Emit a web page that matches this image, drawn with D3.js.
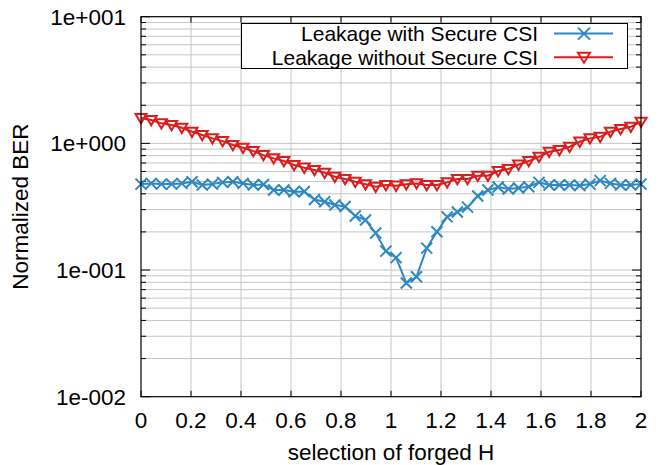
<!DOCTYPE html>
<html>
<head>
<meta charset="utf-8">
<script src="https://cdn.jsdelivr.net/npm/d3@7"></script>
<style>
  body { margin: 0; background: #fff; }
  svg { display: block; font-family: "Liberation Sans", Arial, sans-serif; }
</style>
</head>
<body>
<div id="chart"></div>
<script>
// Normalized BER vs forged-H selection, two series on a log y axis.

var xValues = d3.range(50).map(function(i) { return i * 2 / 49; });

var withSecure = [
  0.477, 0.483, 0.477, 0.477, 0.483, 0.497, 0.469, 0.477, 0.492, 0.497,
  0.483, 0.469, 0.473, 0.428, 0.428, 0.415, 0.417, 0.360, 0.346, 0.326,
  0.317, 0.267, 0.248, 0.196, 0.141, 0.1254, 0.0789, 0.0885, 0.149, 0.2005,
  0.263, 0.287, 0.314, 0.384, 0.428, 0.452, 0.436, 0.444, 0.454, 0.492,
  0.469, 0.469, 0.469, 0.465, 0.477, 0.508, 0.483, 0.469, 0.469, 0.477
];

var withoutSecure = [
  1.584, 1.527, 1.439, 1.395, 1.328, 1.235, 1.163, 1.095, 1.042, 0.970,
  0.923, 0.869, 0.808, 0.761, 0.725, 0.674, 0.642, 0.616, 0.586, 0.545,
  0.523, 0.497, 0.475, 0.454, 0.469, 0.463, 0.475, 0.483, 0.469, 0.469,
  0.492, 0.523, 0.523, 0.555, 0.555, 0.605, 0.627, 0.678, 0.725, 0.784,
  0.858, 0.885, 0.940, 1.030, 1.095, 1.127, 1.235, 1.297, 1.352, 1.481
];

var xTicks = [0, 0.2, 0.4, 0.6, 0.8, 1, 1.2, 1.4, 1.6, 1.8, 2];
var yTicks = [0.01, 0.1, 1, 10];
var yTickLabels = ["1e-002", "1e-001", "1e+000", "1e+001"];

var series = [
  { name: "Leakage with Secure CSI", values: withSecure, color: "#2d88c3", marker: "x" },
  { name: "Leakage without Secure CSI", values: withoutSecure, color: "#dc1d1d", marker: "tri" }
];

var fontSize = "22.5px";
var totalW = 658, totalH = 465;
var margin = { top: 16.7, right: 17, bottom: 68.3, left: 141 };
var width = totalW - margin.left - margin.right;
var height = totalH - margin.top - margin.bottom;

var svg = d3.select("#chart").append("svg")
  .attr("width", totalW)
  .attr("height", totalH);

var g = svg.append("g")
  .attr("transform", "translate(" + margin.left + "," + margin.top + ")");

var x = d3.scaleLinear().domain([0, 2]).range([0, width]);
var y = d3.scaleLog().domain([0.01, 10]).range([height, 0]);

// minor log ticks 2..9 for each decade
var minorY = [];
[0.01, 0.1, 1].forEach(function(d) {
  for (var k = 2; k <= 9; k++) minorY.push(d * k);
});

// --- Grid ---
var grid = g.append("g").attr("class", "grid")
  .attr("stroke", "#c4c4c4")
  .attr("stroke-width", 1);

grid.selectAll(".gx").data(xTicks.slice(1, -1)).enter().append("line")
  .attr("x1", function(d) { return x(d); })
  .attr("x2", function(d) { return x(d); })
  .attr("y1", 0).attr("y2", height);

grid.selectAll(".gy").data(minorY.concat(yTicks.slice(1, -1))).enter().append("line")
  .attr("x1", 0).attr("x2", width)
  .attr("y1", function(d) { return y(d); })
  .attr("y2", function(d) { return y(d); });

// --- Tick marks (inside, on all four sides) ---
var ticks = g.append("g").attr("stroke", "#000").attr("stroke-width", 1);
xTicks.forEach(function(d) {
  ticks.append("line").attr("x1", x(d)).attr("x2", x(d)).attr("y1", height).attr("y2", height - 6);
  ticks.append("line").attr("x1", x(d)).attr("x2", x(d)).attr("y1", 0).attr("y2", 6);
});
yTicks.forEach(function(d) {
  ticks.append("line").attr("x1", 0).attr("x2", 9).attr("y1", y(d)).attr("y2", y(d));
  ticks.append("line").attr("x1", width).attr("x2", width - 9).attr("y1", y(d)).attr("y2", y(d));
});
minorY.forEach(function(d) {
  ticks.append("line").attr("x1", 0).attr("x2", 5).attr("y1", y(d)).attr("y2", y(d));
  ticks.append("line").attr("x1", width).attr("x2", width - 5).attr("y1", y(d)).attr("y2", y(d));
});

// --- Tick labels ---
g.selectAll(".xl").data(xTicks).enter().append("text")
  .attr("x", function(d) { return x(d); })
  .attr("y", height + 31)
  .attr("text-anchor", "middle")
  .style("font-size", fontSize)
  .text(function(d) { return d3.format("")(d); });

g.selectAll(".yl").data(yTicks).enter().append("text")
  .attr("x", -15)
  .attr("y", function(d) { return y(d) + 8; })
  .attr("text-anchor", "end")
  .style("font-size", fontSize)
  .text(function(d, i) { return yTickLabels[i]; });

// --- Axis labels ---
g.append("text")
  .attr("x", width / 2)
  .attr("y", height + 63)
  .attr("text-anchor", "middle")
  .style("font-size", fontSize)
  .text("selection of forged H");

g.append("text")
  .attr("transform", "rotate(-90)")
  .attr("x", -height / 2)
  .attr("y", -113)
  .attr("text-anchor", "middle")
  .style("font-size", fontSize)
  .text("Normalized BER");

// --- Markers ---
function drawMarker(sel, type, cx, cy, color, s) {
  if (type === "x") {
    sel.append("path")
      .attr("d", "M" + (cx - s) + "," + (cy - s) + "L" + (cx + s) + "," + (cy + s) +
                 "M" + (cx - s) + "," + (cy + s) + "L" + (cx + s) + "," + (cy - s))
      .attr("stroke", color).attr("stroke-width", 2).attr("fill", "none");
  } else {
    sel.append("path")
      .attr("d", "M" + (cx - s) + "," + (cy - s * 0.75) + "L" + (cx + s) + "," + (cy - s * 0.75) +
                 "L" + cx + "," + (cy + s * 0.95) + "Z")
      .attr("stroke", color).attr("stroke-width", 2).attr("fill", "none");
  }
}

// --- Lines ---
var line = d3.line()
  .x(function(d) { return x(d[0]); })
  .y(function(d) { return y(d[1]); });

series.forEach(function(s) {
  var pts = xValues.map(function(xv, i) { return [xv, s.values[i]]; });
  g.append("path")
    .datum(pts)
    .attr("fill", "none")
    .attr("stroke", s.color)
    .attr("stroke-width", 2)
    .attr("d", line);
  var mg = g.append("g");
  pts.forEach(function(p) {
    drawMarker(mg, s.marker, x(p[0]), y(p[1]), s.color, 5.5);
  });
});

// --- Border ---
g.append("rect")
  .attr("width", width).attr("height", height)
  .attr("fill", "none").attr("stroke", "#000").attr("stroke-width", 1.2);

// --- Legend ---
var lg = svg.append("g");
lg.append("rect")
  .attr("x", 241.5).attr("y", 23.5)
  .attr("width", 386).attr("height", 45)
  .attr("fill", "#fff").attr("stroke", "#000").attr("stroke-width", 1);

series.forEach(function(s, i) {
  var cy = 33.6 + i * 23.6;
  lg.append("text")
    .attr("x", 538)
    .attr("y", cy + 7.5)
    .attr("text-anchor", "end")
    .style("font-size", "21px")
    .text(s.name);
  lg.append("line")
    .attr("x1", 554).attr("x2", 613)
    .attr("y1", cy).attr("y2", cy)
    .attr("stroke", s.color).attr("stroke-width", 2);
  drawMarker(lg, s.marker, 584, cy, s.color, 6);
});
</script>
</body>
</html>
